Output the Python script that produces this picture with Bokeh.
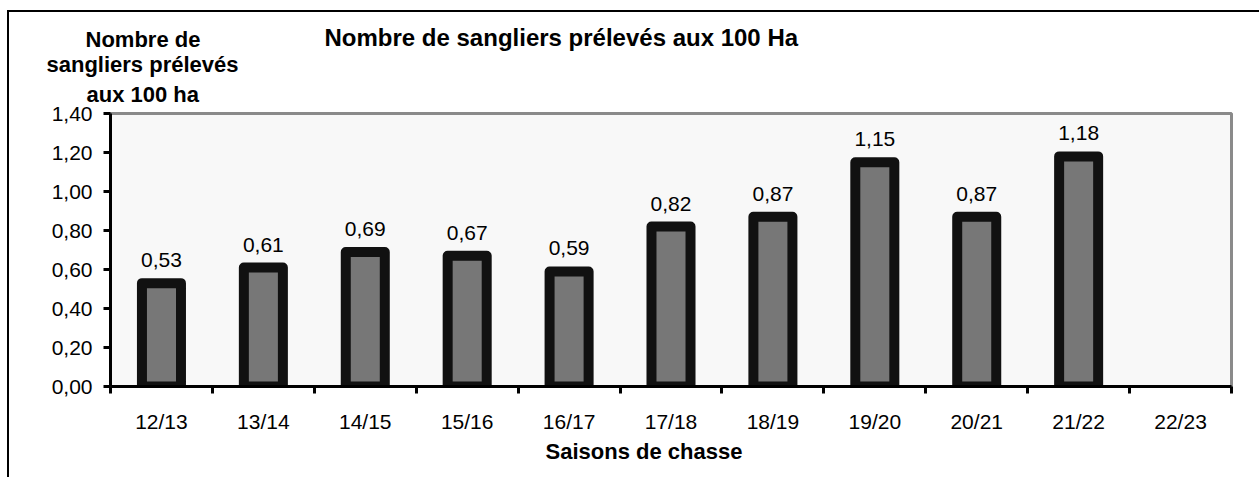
from bokeh.plotting import figure
from bokeh.models import (ColumnDataSource, Range1d, FixedTicker, CustomJSTickFormatter,
                          LabelSet, Title)
from bokeh.core.properties import value
from bokeh.embed import file_html
from bokeh.resources import INLINE

# ---- data ----
seasons = ["12/13", "13/14", "14/15", "15/16", "16/17", "17/18", "18/19",
           "19/20", "20/21", "21/22", "22/23"]
boars_per_100ha = [0.53, 0.61, 0.69, 0.67, 0.59, 0.82, 0.87, 1.15, 0.87, 1.18]
y_ticks = [0.0, 0.2, 0.4, 0.6, 0.8, 1.0, 1.2, 1.4]
title_text = "Nombre de sangliers prélevés aux 100 Ha"
ylabel_lines = ["Nombre de", "sangliers prélevés", "aux 100 ha"]
xlabel_text = "Saisons de chasse"

FONT = "Liberation Sans"

# ---- layout constants (pixels) ----
W, H = 1259, 477
FL, FR, FT, FB = 110, 1231, 113, 386   # frame edges
n = len(seasons)
ymax = y_ticks[-1]

p = figure(width=W, height=H, output_backend="svg", toolbar_location=None,
           x_range=Range1d(0, n), y_range=Range1d(0, ymax),
           min_border_left=FL, min_border_right=W - FR,
           min_border_top=FT, min_border_bottom=H - FB)
p.title.text = ""
p.background_fill_color = "#f8f8f8"
p.border_fill_color = None
p.outline_line_color = "#8a8a8a"
p.outline_line_width = 3
p.grid.visible = False
# outer chart border: top and left edges
p.styles = {
    "background": ("linear-gradient(#000,#000) 7px 10px / 2px 100% no-repeat, "
                   "linear-gradient(#000,#000) 7px 10px / 100% 2px no-repeat, white"),
}

centers = [i + 0.5 for i in range(n)]
bar_x = centers[:len(boars_per_100ha)]
src = ColumnDataSource(dict(
    x=bar_x, top=boars_per_100ha,
    label=[f"{v:.2f}".replace(".", ",") for v in boars_per_100ha]))

p.vbar(x="x", top="top", width=0.383, bottom=0, source=src,
       fill_color="#777777", line_color="#111111", line_width=10, line_join="round")

p.add_layout(LabelSet(x="x", y="top", text="label", source=src, y_offset=16,
                      text_align="center", text_baseline="alphabetic",
                      text_font=value(FONT), text_font_size="21px", text_color="black"))

xa = p.xaxis[0]
xa.ticker = FixedTicker(ticks=centers, minor_ticks=list(range(n + 1)))
xa.formatter = CustomJSTickFormatter(args=dict(cats=seasons),
                                     code="return cats[Math.floor(tick)] || '';")
xa.major_tick_out = 0
xa.major_tick_in = 0
xa.minor_tick_out = 7
xa.minor_tick_in = 0
xa.minor_tick_line_width = 3
xa.minor_tick_line_color = "black"
xa.axis_line_width = 3
xa.axis_line_color = "black"
xa.major_label_standoff = 16
xa.major_label_text_font = FONT
xa.major_label_text_font_size = "21px"
xa.major_label_text_color = "black"

ya = p.yaxis[0]
ya.ticker = FixedTicker(ticks=y_ticks)
ya.formatter = CustomJSTickFormatter(code="return tick.toFixed(2).replace('.', ',');")
ya.major_tick_out = 7
ya.major_tick_in = 0
ya.major_tick_line_width = 3
ya.major_tick_line_color = "black"
ya.minor_tick_line_color = None
ya.axis_line_width = 3
ya.axis_line_color = "black"
ya.major_label_standoff = 11
ya.major_label_text_font = FONT
ya.major_label_text_font_size = "21px"
ya.major_label_text_color = "black"

def title(text, left_px, size, standoff, side="above"):
    t = Title(text=text, align="left", offset=left_px - FL, standoff=standoff,
              text_font=FONT, text_font_size=size, text_font_style="bold",
              text_color="black")
    p.add_layout(t, side)

# y label lines (stacked upward from the frame) and the main title on the top row
title(ylabel_lines[2], 86, "22px", 14)
title(ylabel_lines[1], 46, "22px", -8)
title(ylabel_lines[0], 85, "22px", 4)
title(title_text, 324, "24px", -56)
# x label
title(xlabel_text, 545, "22px", 2, side="below")

open("out.html", "w").write(file_html(p, INLINE))
